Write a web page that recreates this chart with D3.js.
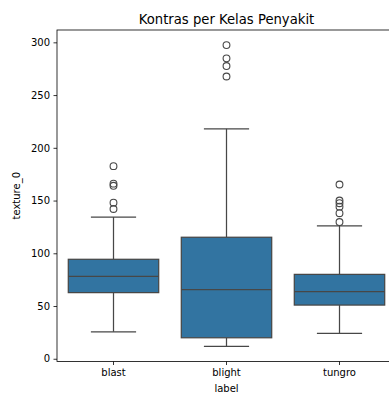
<!DOCTYPE html>
<html>
<head>
<meta charset="utf-8">
<script src="https://cdn.jsdelivr.net/npm/d3@7"></script>
<style>
  html, body { margin: 0; padding: 0; background: #fff; }
  svg { display: block; font-family: "DejaVu Sans", sans-serif; }
</style>
</head>
<body>
<svg id="chart" width="389" height="394"></svg>
<script>
// Class names on the x axis
const categories = ["blast", "blight", "tungro"];
// Box statistics per class: lower whisker, Q1, median, Q3, upper whisker
const whiskerLow = [25.6, 11.7, 24.0];
const q1 = [62.7, 19.9, 50.9];
const median = [78.1, 65.5, 63.6];
const q3 = [94.3, 115.2, 80.0];
const whiskerHigh = [134.4, 218.0, 126.0];
// Outlier points per class
const outliers = [
  [182.6, 166.0, 164.0, 148.0, 142.0],
  [297.4, 284.8, 277.5, 267.6],
  [165.2, 150.0, 147.5, 144.2, 138.0, 129.6]
];
const yTicks = [0, 50, 100, 150, 200, 250, 300];

const svg = d3.select("#chart");
const margin = { left: 57, top: 30, right: -7, bottom: 32.5 };
const W = 389, H = 394;
const x0 = margin.left, x1 = W - margin.right;
const y0 = H - margin.bottom, y1 = margin.top;

const x = d3.scaleBand().domain(categories).range([x0, x1]).paddingInner(0).paddingOuter(0);
const y = d3.scaleLinear().domain([-2.6, 311.7]).range([y0, y1]);

const fill = "#3274a1";
const line = "#474747";
const boxW = x.bandwidth() * 0.8;

const g = svg.append("g");

categories.forEach((c, i) => {
  const cx = x(c) + x.bandwidth() / 2;
  const grp = g.append("g");
  // whiskers
  grp.append("line").attr("x1", cx).attr("x2", cx)
    .attr("y1", y(q3[i])).attr("y2", y(whiskerHigh[i]))
    .attr("stroke", line).attr("stroke-width", 1.25);
  grp.append("line").attr("x1", cx).attr("x2", cx)
    .attr("y1", y(q1[i])).attr("y2", y(whiskerLow[i]))
    .attr("stroke", line).attr("stroke-width", 1.25);
  // caps
  [whiskerHigh[i], whiskerLow[i]].forEach(v => {
    grp.append("line").attr("x1", cx - boxW / 4).attr("x2", cx + boxW / 4)
      .attr("y1", y(v)).attr("y2", y(v))
      .attr("stroke", line).attr("stroke-width", 1.25);
  });
  // box
  grp.append("rect").attr("x", cx - boxW / 2).attr("width", boxW)
    .attr("y", y(q3[i])).attr("height", y(q1[i]) - y(q3[i]))
    .attr("fill", fill).attr("stroke", line).attr("stroke-width", 1.25);
  // median
  grp.append("line").attr("x1", cx - boxW / 2).attr("x2", cx + boxW / 2)
    .attr("y1", y(median[i])).attr("y2", y(median[i]))
    .attr("stroke", line).attr("stroke-width", 1.25);
  // outliers
  grp.selectAll("circle.o").data(outliers[i]).enter().append("circle")
    .attr("cx", cx).attr("cy", d => y(d)).attr("r", 3.4)
    .attr("fill", "none").attr("stroke", line).attr("stroke-width", 1.1);
});

// axes
const yAxis = d3.axisLeft(y).tickValues(yTicks).tickSize(3.5).tickPadding(3.5);
const ya = svg.append("g").attr("transform", `translate(${x0},0)`).call(yAxis);
ya.select(".domain").remove();
ya.selectAll("text").attr("font-size", 10).attr("fill", "#000").attr("font-family", "DejaVu Sans");
ya.selectAll("line").attr("stroke", "#000").attr("stroke-width", 0.8);

const xAxis = d3.axisBottom(x).tickSize(3.5).tickPadding(3.5);
const xa = svg.append("g").attr("transform", `translate(0,${y0})`).call(xAxis);
xa.select(".domain").remove();
xa.selectAll("text").attr("font-size", 10).attr("fill", "#000").attr("font-family", "DejaVu Sans");
xa.selectAll("line").attr("stroke", "#000").attr("stroke-width", 0.8);

// spines
svg.append("rect").attr("x", x0).attr("y", y1).attr("width", x1 - x0).attr("height", y0 - y1)
  .attr("fill", "none").attr("stroke", "#000").attr("stroke-width", 0.8);

// labels
svg.append("text").attr("x", (x0 + x1) / 2).attr("y", 24).attr("text-anchor", "middle")
  .attr("font-size", 13.2).attr("fill", "#000").text("Kontras per Kelas Penyakit");
svg.append("text").attr("x", (x0 + x1) / 2).attr("y", 392).attr("text-anchor", "middle")
  .attr("font-size", 10).attr("fill", "#000").text("label");
svg.append("text").attr("transform", `translate(20,${(y0 + y1) / 2}) rotate(-90)`)
  .attr("text-anchor", "middle").attr("font-size", 10).attr("fill", "#000").text("texture_0");
</script>
</body>
</html>
